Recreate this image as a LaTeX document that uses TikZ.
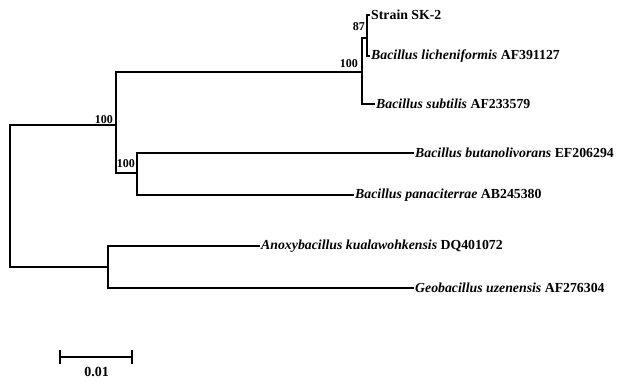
\documentclass[tikz,border=0pt]{standalone}
\usepackage{fontspec}
\setmainfont{Liberation Serif}
\begin{document}
\begin{tikzpicture}[x=1pt,y=-1pt,
  br/.style={line width=2.2pt, line cap=rect},
  leaf/.style={anchor=west, inner sep=2pt, font=\bfseries\fontsize{13.8}{15}\selectfont},
  boot/.style={anchor=south east, inner sep=1pt, font=\bfseries\fontsize{12}{13}\selectfont}]
\useasboundingbox (0,0) rectangle (617,382);
% internal nodes
\coordinate (R) at (10,196);
\coordinate (A) at (116,125);
\coordinate (B) at (137,173);
\coordinate (C) at (108,267);
\coordinate (D) at (362,72);
\coordinate (E) at (367,38);
% leaves
\node[leaf] (sk2) at (369,15) {Strain SK-2};
\node[leaf] (lic) at (369,56) {\textit{Bacillus licheniformis} AF391127};
\node[leaf] (sub) at (374,104) {\textit{Bacillus subtilis} AF233579};
\node[leaf] (but) at (413,153) {\textit{Bacillus butanolivorans} EF206294};
\node[leaf] (pan) at (353,195) {\textit{Bacillus panaciterrae} AB245380};
\node[leaf] (ano) at (259,246) {\textit{Anoxybacillus kualawohkensis} DQ401072};
\node[leaf] (geo) at (413,288) {\textit{Geobacillus uzenensis} AF276304};
% branches
\draw[br] (A) -| (R) |- (C);
\draw[br] (D) -| (A) |- (B);
\draw[br] (E) -| (D) |- (sub.west);
\draw[br] (sk2.west) -| (E) |- (lic.west);
\draw[br] (but.west) -| (B) |- (pan.west);
\draw[br] (ano.west) -| (C) |- (geo.west);
% bootstrap values
\node[boot] (bA) at (A) [xshift=-2pt,yshift=0pt] {100};
\node[boot] (bB) at (B) [xshift=-1pt,yshift=4pt] {100};
\node[boot] (bD) at (D) [xshift=-3pt,yshift=3pt] {100};
\node[boot] (bE) at (E) [xshift=-1pt,yshift=6pt] {87};
% scale bar
\coordinate (s1) at (60,357);
\coordinate (s2) at (132,357);
\draw[line width=1.5pt] (s1) -- (s2);
\draw[line width=1.5pt] ([yshift=-7pt]s1) -- ([yshift=7pt]s1);
\draw[line width=1.5pt] ([yshift=-7pt]s2) -- ([yshift=7pt]s2);
\node[font=\bfseries\fontsize{14}{15}\selectfont, anchor=north, inner sep=1pt] (sl) at (96.5,366) {0.01};
\end{tikzpicture}
\end{document}
